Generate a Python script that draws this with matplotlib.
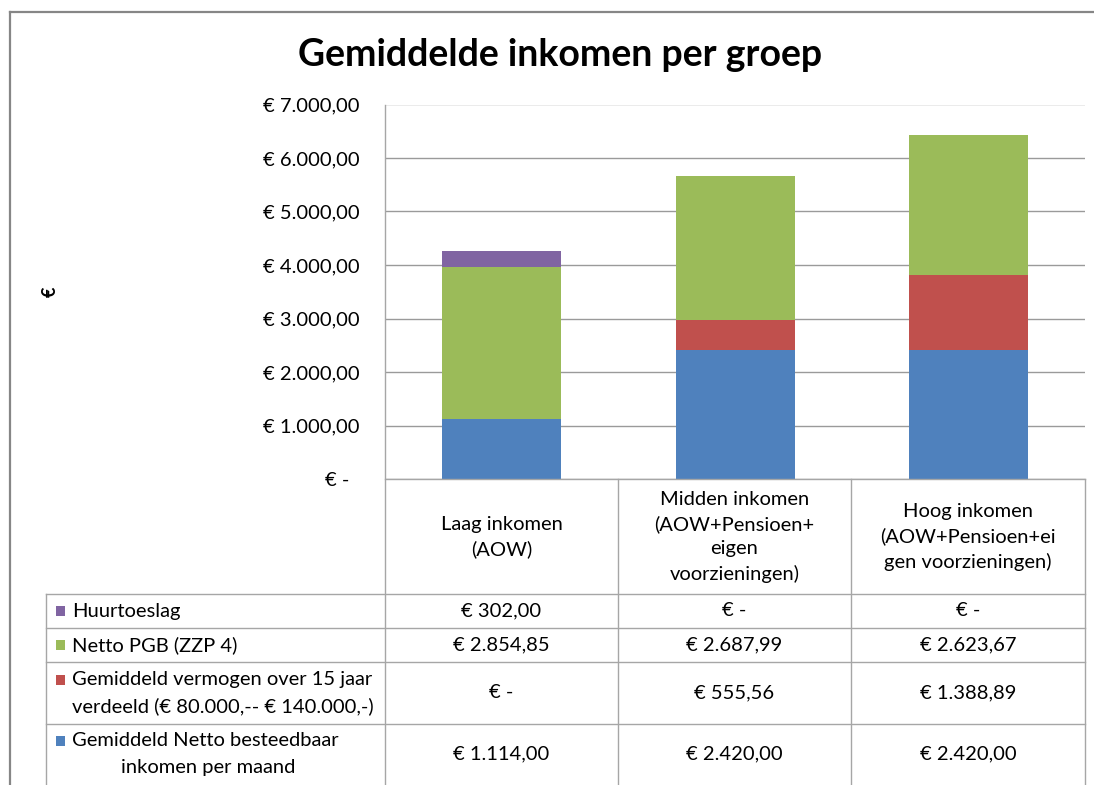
import matplotlib
matplotlib.use("Agg")
import matplotlib.pyplot as plt
from matplotlib.lines import Line2D
from matplotlib.patches import Rectangle

plt.rcParams['font.family'] = ['Lato', 'DejaVu Sans']

# data
groups = ["Laag inkomen\n(AOW)",
          "Midden inkomen\n(AOW+Pensioen+\neigen\nvoorzieningen)",
          "Hoog inkomen\n(AOW+Pensioen+ei\ngen voorzieningen)"]
netto_inkomen = [1114.00, 2420.00, 2420.00]
vermogen = [0.0, 555.56, 1388.89]
netto_pgb = [2854.85, 2687.99, 2623.67]
huurtoeslag = [302.00, 0.0, 0.0]

series_names = ["Huurtoeslag",
                "Netto PGB (ZZP 4)",
                "Gemiddeld vermogen over 15 jaar\nverdeeld (€ 80.000,-- € 140.000,-)",
                "Gemiddeld Netto besteedbaar\ninkomen per maand"]
series_values = [huurtoeslag, netto_pgb, vermogen, netto_inkomen]
colors = ['#8064A2', '#9BBB59', '#C0504D', '#4F81BD']

yticks = [0, 1000, 2000, 3000, 4000, 5000, 6000, 7000]


def euro(v):
    if v == 0:
        return "€ -  "
    s = f"{v:,.2f}".replace(",", "X").replace(".", ",").replace("X", ".")
    return "€ " + s


W, H = 1094, 785
fs = 14.5  # table / tick font size
fig = plt.figure(figsize=(W / 100, H / 100), dpi=100)


def fx(px):
    return px / W


def fy(py):
    return 1 - py / H


def hline(y, x0, x1, c='#a6a6a6', lw=1.0):
    fig.add_artist(Line2D([fx(x0), fx(x1)], [fy(y), fy(y)], color=c, lw=lw))


def vline(x, y0, y1, c='#a6a6a6', lw=1.0):
    fig.add_artist(Line2D([fx(x), fx(x)], [fy(y0), fy(y1)], color=c, lw=lw))


# outer chart frame (cut off at right/bottom)
hline(12, 10, W, c='#868686', lw=1.6)
vline(10, 12, H, c='#868686', lw=1.6)

fig.text(fx(560), fy(55), "Gemiddelde inkomen per groep", ha='center', va='center',
         fontsize=27, fontweight='bold')
fig.text(fx(50), fy(292), "€", ha='center', va='center', rotation=90,
         fontsize=13, fontweight='bold')

# plot area
left, right, top, bottom = 385, 1085, 104.5, 479
ax = fig.add_axes([fx(left), fy(bottom), fx(right) - fx(left), (bottom - top) / H])
x = range(len(groups))
base = [0.0] * len(groups)
for vals, c in zip(series_values[::-1], colors[::-1]):
    ax.bar(x, vals, width=0.51, bottom=base, color=c, edgecolor='none', zorder=3)
    base = [b + v for b, v in zip(base, vals)]

ax.set_xlim(-0.5, 2.5)
ax.set_ylim(0, 7000)
ax.set_yticks(yticks)
ax.set_yticklabels([euro(v) for v in yticks])
ax.tick_params(axis='y', length=0, pad=18.5, labelsize=fs)
ax.set_xticks([])
ax.grid(axis='y', color='#9a9a9a', lw=1, zorder=0)
for s in ['top', 'right', 'bottom', 'left']:
    ax.spines[s].set_visible(False)

# data table
col_x = [385, 618, 851, 1085]
row_y = [594, 628, 662, 724, 800]
vline(385, top, H)
for cx in col_x[1:]:
    vline(cx, bottom, H)
hline(bottom, 385, 1085)
for ry in row_y[:-1]:
    hline(ry, 46, 1085)
vline(46, 594, H)

centers = [(col_x[i] + col_x[i + 1]) / 2 for i in range(3)]
for cx, g in zip(centers, groups):
    fig.text(fx(cx), fy(537), g, ha='center', va='center', fontsize=fs,
             linespacing=1.5)

row_mid = [611, 645, 693, 754]
for i, (name, vals, c) in enumerate(zip(series_names, series_values, colors)):
    lines = name.split("\n")
    ym = row_mid[i]
    if len(lines) == 1:
        line_y = [ym]
    else:
        line_y = [ym - 13, ym + 13]
    fig.add_artist(Rectangle((fx(56), fy(line_y[0] + 5)), fx(9), 10 / H,
                             facecolor=c, edgecolor='none'))
    fig.text(fx(72), fy(line_y[0]), lines[0], ha='left', va='center', fontsize=fs)
    if len(lines) > 1:
        if i == 3:
            fig.text(fx(208), fy(line_y[1]), lines[1], ha='center', va='center', fontsize=fs)
        else:
            fig.text(fx(72), fy(line_y[1]), lines[1], ha='left', va='center', fontsize=fs)
    for cx, v in zip(centers, vals):
        fig.text(fx(cx), fy(ym), euro(v).rstrip(), ha='center', va='center', fontsize=fs)

fig.savefig("out.png", dpi=100)
